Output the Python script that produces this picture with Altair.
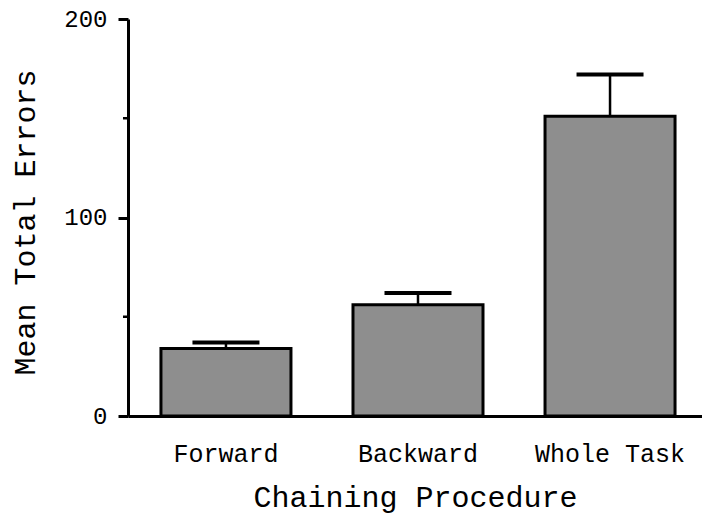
import altair as alt
import pandas as pd

categories = ["Forward", "Backward", "Whole Task"]
means = [34, 56, 151]
upper = [37, 62, 172]
minor_ticks = [50, 150]

df = pd.DataFrame({"proc": categories, "mean": means, "upper": upper})
mdf = pd.DataFrame({"mean": minor_ticks})

FONT = "Liberation Mono"

xscale = alt.Scale(domain=categories, paddingInner=0.323, paddingOuter=0.156, align=0.55)
yscale = alt.Scale(domain=[0, 200], nice=False, zero=True)

x = alt.X("proc:N", scale=xscale, sort=categories,
          axis=alt.Axis(title="Chaining Procedure", labelAngle=0, ticks=False,
                        labelFont=FONT, labelFontSize=25, labelColor="black",
                        labelBaseline="alphabetic", labelPadding=45,
                        titleFont=FONT, titleFontSize=30, titleFontWeight="normal",
                        titleColor="black", titleBaseline="alphabetic", titleY=90,
                        domainColor="black", domainWidth=3))

yaxis = alt.Axis(title="Mean Total Errors", values=[0, 100, 200],
                 tickSize=10, tickWidth=3, tickColor="black",
                 labelFont=FONT, labelFontSize=24, labelColor="black",
                 labelPadding=11, grid=False,
                 titleFont=FONT, titleFontSize=30, titleFontWeight="normal",
                 titleColor="black", titleAngle=270, titleBaseline="middle",
                 titleAlign="center", titleX=-103, titleY=203,
                 domainColor="black", domainWidth=3)

bars = alt.Chart(df).mark_bar(fill="#8e8e8e", stroke="black", strokeWidth=3).encode(
    x=x,
    y=alt.Y("mean:Q", scale=yscale, axis=yaxis),
)

err = alt.Chart(df).mark_rule(color="black", strokeWidth=2.5).encode(
    x=alt.X("proc:N", scale=xscale, sort=categories),
    y=alt.Y("mean:Q", scale=yscale, axis=yaxis),
    y2="upper:Q",
)

caps = alt.Chart(df).mark_tick(color="black", size=67, thickness=4, opacity=1).encode(
    x=alt.X("proc:N", scale=xscale, sort=categories),
    y=alt.Y("upper:Q", scale=yscale, axis=yaxis),
)

minor = alt.Chart(mdf).mark_rule(color="black", strokeWidth=2.5).encode(
    y=alt.Y("mean:Q", scale=yscale, axis=yaxis),
    x=alt.value(-5),
    x2=alt.value(0),
)

chart = alt.layer(bars, err, caps, minor).properties(
    width=574, height=397,
    autosize=alt.AutoSizeParams(type="none"),
    padding={"left": 128, "top": 19, "right": 0, "bottom": 102},
    background="white",
).configure_view(stroke=None)

chart.save("out.html", embed_options={"renderer": "svg", "actions": False})
